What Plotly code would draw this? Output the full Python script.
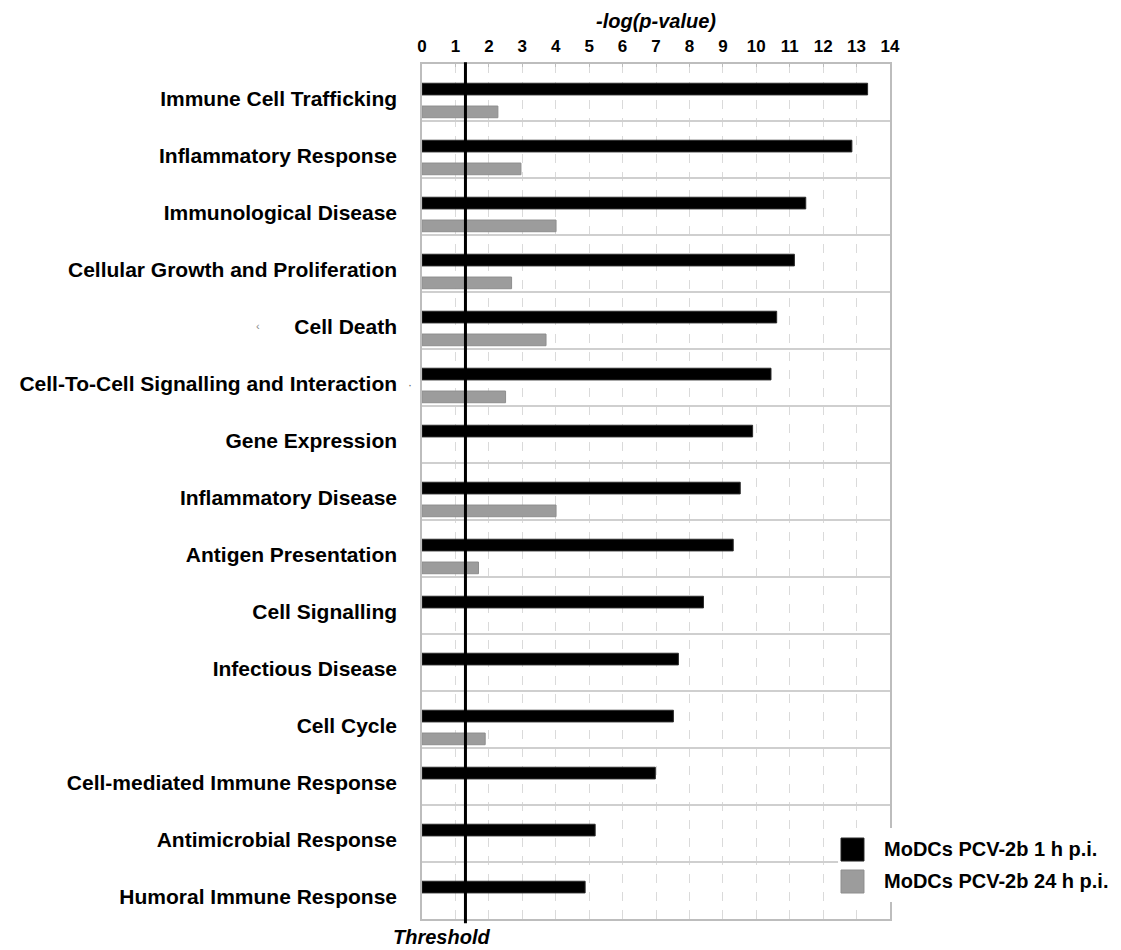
import plotly.graph_objects as go

categories = [
    "Immune Cell Trafficking",
    "Inflammatory Response",
    "Immunological Disease",
    "Cellular Growth and Proliferation",
    "Cell Death",
    "Cell-To-Cell Signalling and Interaction",
    "Gene Expression",
    "Inflammatory Disease",
    "Antigen Presentation",
    "Cell Signalling",
    "Infectious Disease",
    "Cell Cycle",
    "Cell-mediated Immune Response",
    "Antimicrobial Response",
    "Humoral Immune Response",
]
series_1h_name = "MoDCs PCV-2b 1 h p.i."
series_24h_name = "MoDCs PCV-2b 24 h p.i."
values_1h = [13.33, 12.86, 11.48, 11.14, 10.61, 10.44, 9.89, 9.52, 9.31,
             8.42, 7.67, 7.52, 6.98, 5.18, 4.88]
values_24h = [2.27, 2.96, 4.01, 2.68, 3.71, 2.50, None, 4.01, 1.69,
              None, None, 1.89, None, None, None]
x_ticks = list(range(0, 15))
THRESHOLD = 1.3
x_title = "-log(p-value)"
threshold_label = "Threshold"

FONT = "Liberation Sans, Arial, sans-serif"

fig = go.Figure()
fig.add_trace(go.Bar(
    y=categories, x=values_1h, orientation="h", name=series_1h_name,
    marker=dict(color="#000000", line=dict(color="#2a2a2a", width=1)),
    width=0.205, offset=-0.1625, showlegend=False,
))
fig.add_trace(go.Bar(
    y=categories, x=values_24h, orientation="h", name=series_24h_name,
    marker=dict(color="#9c9c9c", line=dict(color="#8e8e8e", width=1)),
    width=0.205, offset=0.2375, showlegend=False,
))

shapes = [
    # threshold line
    dict(type="line", xref="x", yref="paper", x0=THRESHOLD, x1=THRESHOLD,
         y0=-0.005, y1=1.002, line=dict(color="#000000", width=3), layer="above"),
    # legend background
    dict(type="rect", xref="paper", yref="paper", x0=0.889, x1=1.49,
         y0=0.0199, y1=0.1064, fillcolor="#ffffff", line=dict(width=0), layer="above"),
    dict(type="rect", xref="paper", yref="paper", x0=0.8953, x1=0.9444,
         y0=0.0678, y1=0.0947, fillcolor="#000000", line=dict(color="#222", width=1),
         layer="above"),
    dict(type="rect", xref="paper", yref="paper", x0=0.8953, x1=0.9444,
         y0=0.0304, y1=0.0573, fillcolor="#9c9c9c", line=dict(color="#8e8e8e", width=1),
         layer="above"),
]

annotations = [
    dict(text=f"<b>{series_1h_name}</b>", xref="paper", yref="paper", x=0.983, y=0.0813,
         xanchor="left", yanchor="middle", showarrow=False,
         font=dict(family=FONT, size=20, color="#000")),
    dict(text=f"<b>{series_24h_name}</b>", xref="paper", yref="paper", x=0.983, y=0.0439,
         xanchor="left", yanchor="middle", showarrow=False,
         font=dict(family=FONT, size=20, color="#000")),
    dict(text=f"<b><i>{threshold_label}</i></b>", xref="x", yref="paper", x=THRESHOLD,
         y=0, xshift=-24, yshift=-18, xanchor="center", yanchor="middle", showarrow=False,
         font=dict(family=FONT, size=20, color="#000")),
    dict(text="‹", xref="paper", yref="paper", x=(258 - 422) / 468, y=(919 - 326) / 855,
         xanchor="center", yanchor="middle", showarrow=False,
         font=dict(family=FONT, size=11, color="#888")),
    dict(text="·", xref="paper", yref="paper", x=(410 - 422) / 468, y=(919 - 385) / 855,
         xanchor="center", yanchor="middle", showarrow=False,
         font=dict(family=FONT, size=12, color="#666")),
]

fig.update_layout(
    width=1113, height=942,
    margin=dict(l=414, r=231, t=56, b=31),
    paper_bgcolor="#ffffff", plot_bgcolor="#ffffff",
    barmode="overlay",
    font=dict(family=FONT, color="#000"),
    shapes=shapes, annotations=annotations,
    showlegend=False,
    xaxis=dict(
        side="top", range=[0, 14], tickvals=x_ticks,
        ticktext=[f"<b>{t}</b>" for t in x_ticks],
        tickfont=dict(family=FONT, size=17, color="#000"),
        showgrid=True, gridcolor="#dadada", griddash="dash", gridwidth=1,
        showline=True, linecolor="#bdbdbd", linewidth=1.5, mirror=True,
        ticks="inside", ticklen=3, tickcolor="#bdbdbd",
        ticklabelstandoff=3, zeroline=False,
        title=dict(text=f"<b><i>{x_title}</i></b>", standoff=3,
                   font=dict(family=FONT, size=20, color="#000")),
    ),
    yaxis=dict(
        type="category", autorange="reversed", tickson="boundaries",
        tickvals=categories, ticktext=[f"<b>{c}</b>" for c in categories],
        tickfont=dict(family=FONT, size=21, color="#000"),
        showgrid=True, gridcolor="#cfcfcf", gridwidth=1.5,
        showline=True, linecolor="#bdbdbd", linewidth=1.5, mirror=True,
        ticks="", ticklabelstandoff=19, ticklabelshift=-6,
    ),
)

fig.write_html("out.html")
